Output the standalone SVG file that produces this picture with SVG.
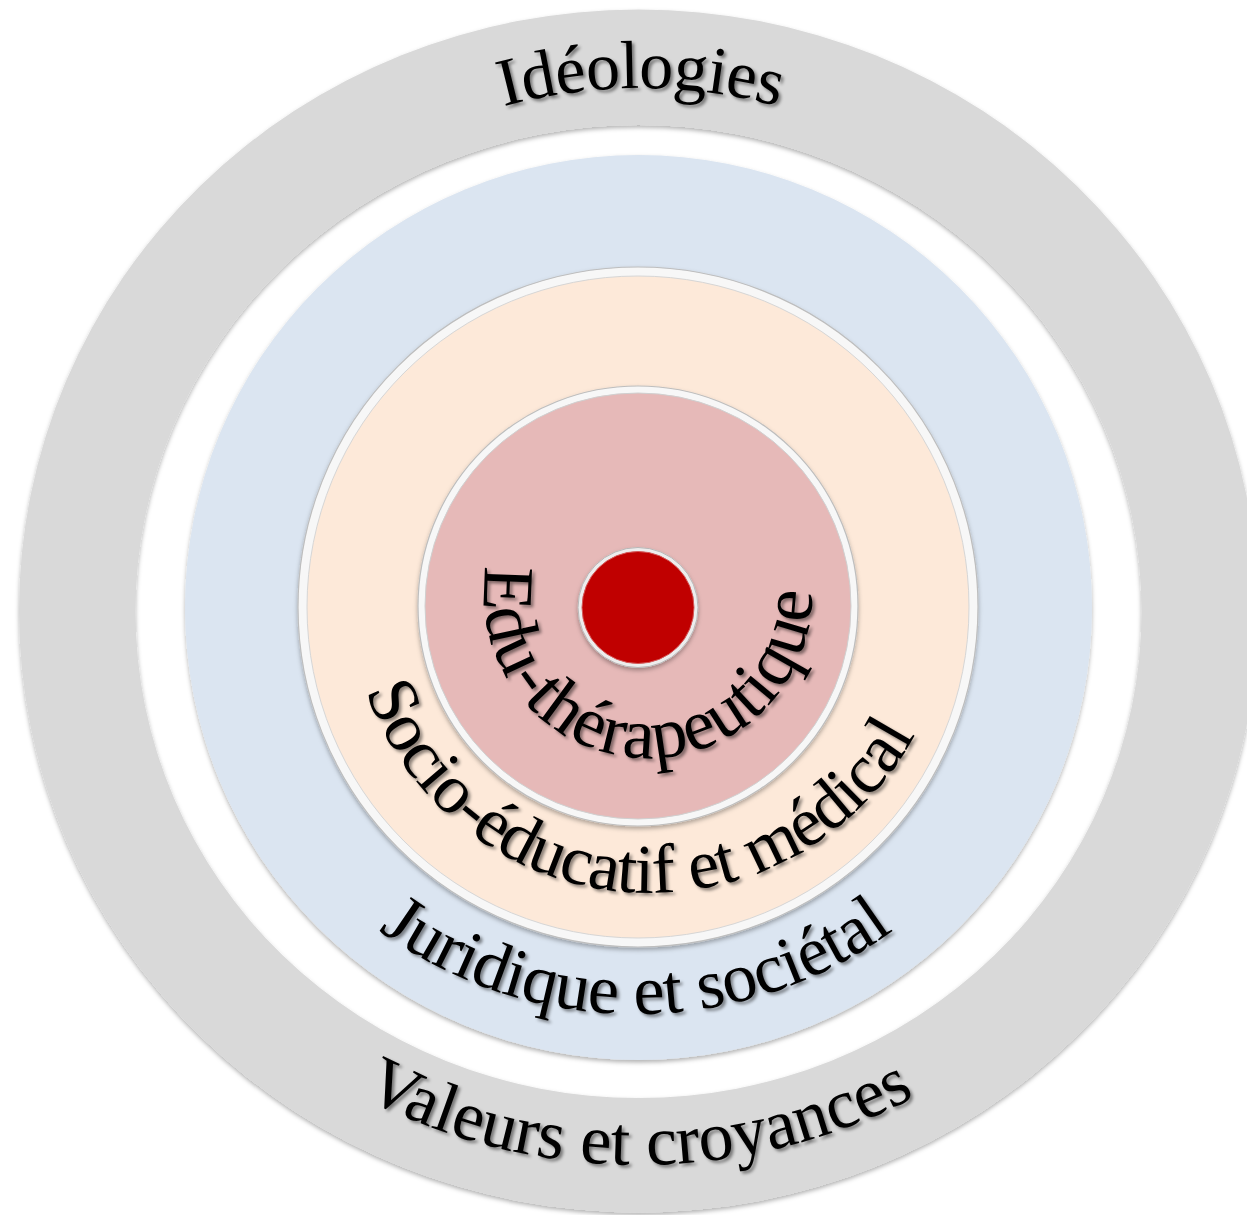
<svg xmlns="http://www.w3.org/2000/svg" xmlns:xlink="http://www.w3.org/1999/xlink" width="1247" height="1215" viewBox="0 0 1247 1215">
<style>
.lbl{font-family:"Liberation Serif","Times New Roman",serif;font-size:68px;fill:#000;filter:url(#ts);}
.big{font-size:70px;}
.edu{font-size:72px;}
.bevel{fill:#F7F7F7;stroke:#BEBEBE;stroke-width:1.2;}
</style>
<defs>
<filter id="ts" x="-20%" y="-20%" width="140%" height="140%">
<feDropShadow dx="2.5" dy="2.5" stdDeviation="1.6" flood-color="#000" flood-opacity="0.45"/>
</filter>
<filter id="sh" x="-10%" y="-10%" width="120%" height="120%">
<feDropShadow dx="0" dy="2.5" stdDeviation="2.2" flood-color="#000" flood-opacity="0.3"/>
</filter>
<path id="pIdeo" d="M 118,611 A 523,523 0 0 1 1164,611"/>
<path id="pVal" d="M 80.8,367.8 A 594,594 0 1 0 1197.2,367.8"/>
<path id="pJur" d="M 225.4,427.5 A 437,437 0 1 0 1046.6,427.5"/>
<path id="pSoc" d="M 367.1,489.1 A 301,301 0 1 0 932.9,489.1"/>
<path id="pEdu" d="M 493.9,537.9 A 164,164 0 1 0 802.1,537.9"/>
</defs>
<rect width="1247" height="1215" fill="#FFFFFF"/>

<g id="ring-ideologies-valeurs">
<path filter="url(#sh)" fill="#D9D9D9" fill-rule="evenodd" d="M 19,611 A 619.5,601.5 0 1 0 1258,611 A 619.5,601.5 0 1 0 19,611 Z M 135.5,611.5 A 503,486.5 0 1 0 1141.5,611.5 A 503,486.5 0 1 0 135.5,611.5 Z"/>
<text class="lbl"><textPath xlink:href="#pIdeo" href="#pIdeo" startOffset="50%" text-anchor="middle" textLength="278">Idéologies</textPath></text>
<text class="lbl big"><textPath xlink:href="#pVal" href="#pVal" startOffset="50%" text-anchor="middle" textLength="575">Valeurs et croyances</textPath></text>
</g>

<g id="ring-juridique">
<ellipse filter="url(#sh)" cx="638.5" cy="607.5" rx="453.5" ry="452.5" fill="#DBE5F1"/>
<text class="lbl big"><textPath xlink:href="#pJur" href="#pJur" startOffset="50%" text-anchor="middle" textLength="551">Juridique et sociétal</textPath></text>
</g>

<g id="ring-socio">
<circle class="bevel" filter="url(#sh)" cx="638" cy="607" r="340"/>
<circle cx="638" cy="607" r="331" fill="#FDE9D9" stroke="#D6D6D6" stroke-width="1"/>
<text class="lbl big"><textPath xlink:href="#pSoc" href="#pSoc" startOffset="554" text-anchor="middle" textLength="696">Socio-éducatif et médical</textPath></text>
</g>

<g id="ring-edu">
<circle class="bevel" filter="url(#sh)" cx="638" cy="606" r="220"/>
<circle cx="638" cy="606" r="213" fill="#E6B9B8" stroke="#D0D0D0" stroke-width="1"/>
<text class="lbl edu"><textPath xlink:href="#pEdu" href="#pEdu" startOffset="302" text-anchor="middle" textLength="546">Edu-thérapeutique</textPath></text>
</g>

<g id="center-dot">
<circle filter="url(#sh)" cx="638" cy="607.5" r="60" fill="#EDEDED" stroke="#B8B8B8" stroke-width="1"/>
<circle cx="638" cy="607.5" r="56" fill="#C00000" stroke="#D45A5A" stroke-width="1"/>
</g>
</svg>
